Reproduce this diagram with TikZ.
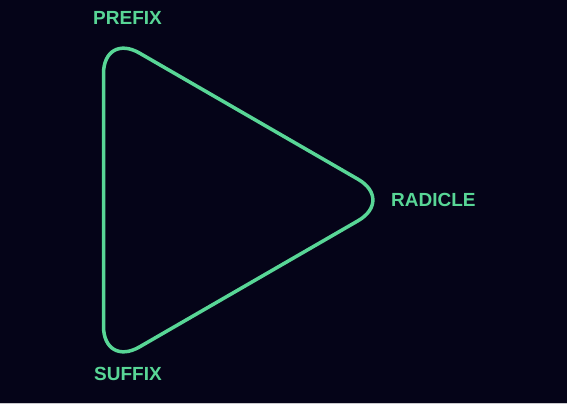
\documentclass[tikz,border=0pt]{standalone}
\usepackage{fontspec}
\setmainfont{Liberation Sans}
\usetikzlibrary{positioning}
\definecolor{night}{RGB}{5,4,24}
\definecolor{mint}{RGB}{88,214,150}
\definecolor{rim}{RGB}{200,200,204}
\tikzset{
lbl/.style={text=mint, font=\bfseries\fontsize{19}{19}\selectfont, inner sep=0pt},
tri/.style={draw=mint, line width=3.5pt, rounded corners=41.6pt, line join=round}
}

\begin{document}
\begin{tikzpicture}[x=1pt,y=-1pt]
\fill[night] (0,0) rectangle (567,404);
\useasboundingbox (0,0) rectangle (567,404);
\fill[rim] (0,402.6) rectangle (567,404);

% corners of the triangle
\coordinate (top) at (103.5,32.3);
\coordinate (tip) at (394,200);
\coordinate (bot) at (103.5,367.7);

\draw[tri] (top) -- (tip) -- (bot) -- cycle;

\node[lbl] (prefix) at (127.5,18) {PREFIX};
\node[lbl, anchor=west] (radicle) at (391,200) {RADICLE};
\node[lbl] (suffix) at (128,374) {SUFFIX};
\end{tikzpicture}
\end{document}
